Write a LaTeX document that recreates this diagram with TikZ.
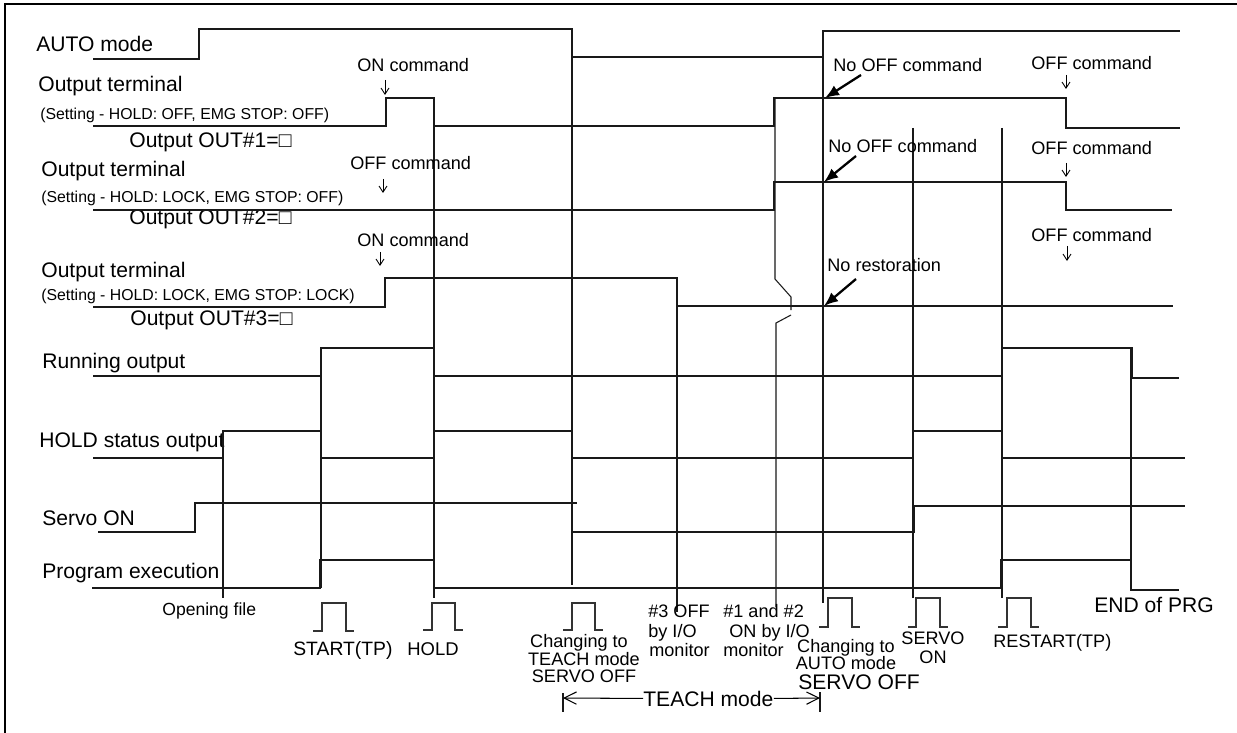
\documentclass[tikz,border=0pt]{standalone}
\usepackage{fontspec}
\setmainfont{Liberation Sans}
\usetikzlibrary{arrows.meta}
\begin{document}
\begin{tikzpicture}[x=0.02cm,y=-0.02cm,
  sig/.style={line width=0.6pt, line join=miter, color=black!90},
  vmark/.style={line width=0.6pt, color=black!90},
  pulse/.style={line width=0.6pt, color=black!80},
  frame/.style={line width=1.2pt},
  lbl/.style={inner sep=0pt, anchor=base west, font=\fontsize{12}{14}\selectfont},
  lblc/.style={inner sep=0pt, anchor=base, font=\fontsize{12}{14}\selectfont},
  setg/.style={inner sep=0pt, anchor=base west, font=\fontsize{9}{11}\selectfont},
  ann/.style={inner sep=0pt, anchor=base west, font=\fontsize{10.3}{12}\selectfont},
  annc/.style={inner sep=0pt, anchor=base, font=\fontsize{10.3}{12}\selectfont},
  cmdarrow/.style={line width=0.5pt, -{Straight Barb[length=3.5pt,width=4.5pt]}},
  bigarrow/.style={line width=1.3pt, -{Latex[length=8pt,width=6.5pt]}},
  spanarrow/.style={line width=0.6pt, -{Straight Barb[length=7pt,width=7pt]}}
]
\useasboundingbox (0,0) rectangle (1237,733);
% frame
\draw[frame] (4,4.3) -- (1237,4.3);
\draw[frame] (5,3.5) -- (5,733);

% ---------- signal labels ----------
\node[lbl] (lauto) at (36,52) {AUTO mode};
\node[lbl] (lot1) at (38,92) {Output terminal};
\node[setg] (ls1) at (40,120) {(Setting - HOLD: OFF, EMG STOP: OFF)};
\node[lbl] (lo1) at (129,148) {Output OUT\#1=□};
\node[lbl] (lot2) at (41,177) {Output terminal};
\node[setg] (ls2) at (41,203) {(Setting - HOLD: LOCK, EMG STOP: OFF)};
\node[lbl] (lo2) at (129,225) {Output OUT\#2=□};
\node[lbl] (lot3) at (41,277) {Output terminal};
\node[setg] (ls3) at (41,300) {(Setting - HOLD: LOCK, EMG STOP: LOCK)};
\node[lbl] (lo3) at (130,325) {Output OUT\#3=□};
\node[lbl] (lrun) at (42,368) {Running output};
\node[lbl] (lhold) at (39,447) {HOLD status output};
\node[lbl] (lservo) at (42,525) {Servo ON};
\node[lbl] (lprog) at (42,578) {Program execution};

% ---------- waveforms ----------
\draw[sig] (93,59) -- (199,59) -- (199,29) -- (572,29) -- (572,57) -- (823,57) -- (823,31) -- (1180,31);
\draw[sig] (93,126) -- (386,126) -- (386,98) -- (434,98) -- (434,126) -- (774,126) -- (774,98) -- (1066,98) -- (1066,128) -- (1180,128);
\draw[sig] (93,210) -- (774,210) -- (774,182) -- (1066,182) -- (1066,210) -- (1172,210);
\draw[sig] (93,307) -- (385,307) -- (385,278) -- (677,278) -- (677,306) -- (1173,306);
\draw[sig] (93,376) -- (321,376) -- (321,348) -- (434,348) -- (434,376) -- (1002,376) -- (1002,348) -- (1132,348) -- (1132,378) -- (1179,378);
\draw[sig] (93,458) -- (223,458) -- (223,431) -- (321,431) -- (321,458) -- (434,458) -- (434,431) -- (572,431) -- (572,458) -- (913,458) -- (913,431) -- (1002,431) -- (1002,458) -- (1185,458);
\draw[sig] (98,532) -- (195,532) -- (195,503) -- (577,503);
\draw[sig] (572,532) -- (914,532) -- (914,506) -- (1185,506);
\draw[sig] (92,588) -- (320,588) -- (320,560) -- (434,560) -- (434,588) -- (1001,588) -- (1001,560) -- (1131,560) -- (1131,590) -- (1179,590);

% ---------- event marker lines ----------
\draw[vmark] (223,431) -- (223,598);
\draw[vmark] (321,348) -- (321,588);
\draw[vmark] (434,98) -- (434,598);
\draw[vmark] (572,29) -- (572,585);
\draw[vmark] (677,278) -- (677,612);
\draw[vmark] (775,98) -- (775,279) -- (791,297) -- (791,310);
\draw[vmark] (791,315) -- (776,323) -- (776,607);
\draw[vmark] (823,31) -- (823,603);
\draw[vmark] (913,128) -- (913,598);
\draw[vmark] (1002,128) -- (1002,598);
\draw[vmark] (1131,348) -- (1131,590);

% ---------- button pulses ----------
\draw[pulse] (313,631) -- (322,631) -- (322,603) -- (346,603) -- (346,631) -- (354,631);
\draw[pulse] (423,630) -- (432,630) -- (432,603) -- (455,603) -- (455,630) -- (463,630);
\draw[pulse] (563,630) -- (572,630) -- (572,603) -- (595,603) -- (595,630) -- (603,630);
\draw[pulse] (819,627) -- (828,627) -- (828,598) -- (852,598) -- (852,627) -- (860,627);
\draw[pulse] (908,627) -- (916,627) -- (916,598) -- (940,598) -- (940,627) -- (948,627);
\draw[pulse] (998,627) -- (1007,627) -- (1007,598) -- (1031,598) -- (1031,627) -- (1039,627);

% ---------- command annotations ----------
\node[ann] (c1) at (357,72) {ON command};
\node[ann] (c2) at (350,170) {OFF command};
\node[ann] (c3) at (357,247) {ON command};
\node[ann] (c4) at (1031,70) {OFF command};
\node[ann] (c5) at (1031,155) {OFF command};
\node[ann] (c6) at (1031,241) {OFF command};
\coordinate (c1s) at (385,80);  \coordinate (c1e) at (385,95);
\coordinate (c2s) at (383,179); \coordinate (c2e) at (383,193);
\coordinate (c3s) at (380,252); \coordinate (c3e) at (380,266);
\coordinate (c4s) at (1066,75); \coordinate (c4e) at (1066,89);
\coordinate (c5s) at (1066,163); \coordinate (c5e) at (1066,177);
\coordinate (c6s) at (1067,246); \coordinate (c6e) at (1067,261);
\draw[cmdarrow] (c1s) -- (c1e);
\draw[cmdarrow] (c2s) -- (c2e);
\draw[cmdarrow] (c3s) -- (c3e);
\draw[cmdarrow] (c4s) -- (c4e);
\draw[cmdarrow] (c5s) -- (c5e);
\draw[cmdarrow] (c6s) -- (c6e);

\node[ann] (n1) at (833,72) {No OFF command};
\node[ann] (n2) at (828,153) {No OFF command};
\node[ann] (n3) at (827,272) {No restoration};
\coordinate (n1s) at (861,75);  \coordinate (n1e) at (825,98);
\coordinate (n2s) at (856,156); \coordinate (n2e) at (824,182);
\coordinate (n3s) at (856,279); \coordinate (n3e) at (824,306);
\draw[bigarrow] (n1s) -- (n1e);
\draw[bigarrow] (n2s) -- (n2e);
\draw[bigarrow] (n3s) -- (n3e);

% ---------- event labels ----------
\node[inner sep=0pt, anchor=base west, font=\fontsize{10}{12}\selectfont] (eopen) at (162,615) {Opening file};
\node[inner sep=0pt, anchor=base west, font=\fontsize{11}{13}\selectfont] (estart) at (293,655) {START(TP)};
\node[inner sep=0pt, anchor=base west, font=\fontsize{10.5}{12}\selectfont] (ehold) at (407,655) {HOLD};
\node[annc] (et1) at (579,647) {Changing to};
\node[annc] (et2) at (584,665) {TEACH mode};
\node[annc] (et3) at (584,682) {SERVO OFF};
\node[ann] (e31) at (648,617) {\#3 OFF};
\node[ann] (e32) at (648,637) {by I/O};
\node[ann] (e33) at (649,656) {monitor};
\node[ann] (e121) at (723,617) {\#1 and \#2};
\node[ann] (e122) at (729,637) {ON by I/O};
\node[ann] (e123) at (723,656) {monitor};
\node[annc] (ea1) at (846,652) {Changing to};
\node[annc] (ea2) at (846,669) {AUTO mode};
\node[lbl] (ea3) at (798,689) {SERVO OFF};
\node[annc] (es1) at (933,644) {SERVO};
\node[annc] (es2) at (933,663) {ON};
\node[ann] (erst) at (993,647) {RESTART(TP)};
\node[lbl] (eend) at (1094,612) {END of PRG};

% ---------- TEACH mode span ----------
\node[lbl] (tm) at (643,706) {TEACH mode};
\coordinate (tl) at (563,698);
\coordinate (tr) at (820,698);
\draw[vmark] (563,693) -- (563,712);
\draw[vmark] (820,692) -- (820,712);
\draw[spanarrow] (tm.west) -- (tl);
\draw[spanarrow] (tm.east) -- (tr);
\end{tikzpicture}
\end{document}
